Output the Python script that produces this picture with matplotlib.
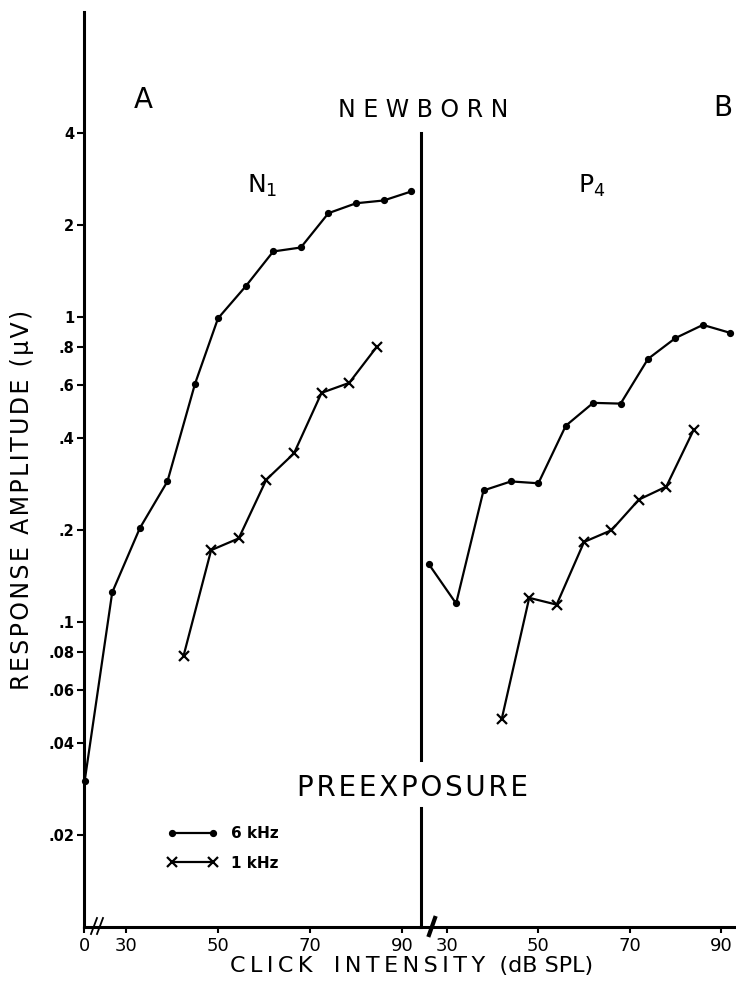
import matplotlib.pyplot as plt
from matplotlib.lines import Line2D
from matplotlib.ticker import FixedLocator, NullLocator

W, H = 736, 988

# click intensity (dB SPL) and response amplitude (uV)
db_n1_6k = [21, 27, 33, 39, 45, 50, 56, 62, 68, 74, 80, 86, 92]
amp_n1_6k = [0.030, 0.125, 0.203, 0.289, 0.604, 0.99, 1.26, 1.64, 1.69, 2.19, 2.36, 2.41, 2.58]
db_n1_1k = [42.5, 48.5, 54.5, 60.5, 66.5, 72.5, 78.5, 84.5]
amp_n1_1k = [0.0774, 0.172, 0.188, 0.293, 0.357, 0.564, 0.608, 0.798]

db_p4_6k = [26, 32, 38, 44, 50, 56, 62, 68, 74, 80, 86, 92]
amp_p4_6k = [0.155, 0.115, 0.270, 0.289, 0.285, 0.440, 0.523, 0.52, 0.729, 0.853, 0.942, 0.887]
db_p4_1k = [42, 48, 54, 60, 66, 72, 78, 84]
amp_p4_1k = [0.0482, 0.120, 0.114, 0.183, 0.200, 0.252, 0.278, 0.427]

y_ticks = [4, 2, 1, 0.8, 0.6, 0.4, 0.2, 0.1, 0.08, 0.06, 0.04, 0.02]
y_labels = ['4', '2', '1', '.8', '.6', '.4', '.2', '.1', '.08', '.06', '.04', '.02']
x_ticks = [30, 50, 70, 90]


def fx(x):
    return x / W


def fy(y):
    return 1 - y / H


fig = plt.figure(figsize=(W / 100, H / 100), dpi=100)
fig.patch.set_facecolor('white')

top, bottom = 12, 927
ax_a = fig.add_axes([fx(84), fy(bottom), (420 - 84) / W, (bottom - top) / H])
ax_b = fig.add_axes([fx(420), fy(bottom), (760 - 420) / W, (bottom - top) / H])

line_kw = dict(color='black', lw=1.6)
dot_kw = dict(marker='o', ms=4.2, mfc='black', mec='black')
cross_kw = dict(marker='x', ms=6.5, mew=1.6, mec='black')

h6, = ax_a.plot(db_n1_6k, amp_n1_6k, **line_kw, **dot_kw, clip_on=False)
h1, = ax_a.plot(db_n1_1k, amp_n1_1k, **line_kw, **cross_kw, clip_on=False)
ax_b.plot(db_p4_6k, amp_p4_6k, **line_kw, **dot_kw)
ax_b.plot(db_p4_1k, amp_p4_1k, **line_kw, **cross_kw)

for ax in (ax_a, ax_b):
    ax.set_yscale('log')
    ax.set_ylim(0.01, 10)
    ax.spines['top'].set_visible(False)
    ax.spines['right'].set_visible(False)
    ax.spines['bottom'].set_linewidth(2.2)
    ax.spines['left'].set_linewidth(2.2)
    ax.yaxis.set_minor_locator(NullLocator())
    ax.xaxis.set_minor_locator(NullLocator())
    ax.patch.set_alpha(0)

ax_a.set_xlim(20.87, 93.9)
ax_b.set_xlim(24.1, 98.5)

ax_a.yaxis.set_major_locator(FixedLocator(y_ticks))
ax_a.set_yticklabels(y_labels, fontweight='bold')
ax_a.tick_params(axis='y', direction='out', length=5, width=1.5, pad=2,
                 labelsize=10.5)
ax_b.spines['left'].set_visible(False)
ax_b.tick_params(axis='y', left=False, labelleft=False)

ax_a.set_xticks([ax_a.get_xlim()[0]] + x_ticks)
ax_a.set_xticklabels(['0'] + [str(t) for t in x_ticks])
ax_b.set_xticks(x_ticks)
ax_b.set_xticklabels([str(t) for t in x_ticks])
for ax in (ax_a, ax_b):
    ax.tick_params(axis='x', direction='out', length=4, width=1.5, pad=3,
                   labelsize=13)

# divider between the two panels, broken around PREEXPOSURE
for y0, y1 in [(133, 760), (808, bottom)]:
    fig.add_artist(Line2D([fx(421), fx(421)], [fy(y0), fy(y1)],
                          color='black', lw=2.2))

# axis break marks
for x0 in (91, 97):
    fig.add_artist(Line2D([fx(x0), fx(x0 + 6)], [fy(934), fy(918)],
                          color='black', lw=1.3))
fig.add_artist(Line2D([fx(429), fx(435)], [fy(935), fy(918)],
                      color='black', lw=3))

# panel labels and titles
fig.text(fx(143), fy(100), 'A', fontsize=20, ha='center', va='center')
fig.text(fx(713), fy(108), 'B', fontsize=20, ha='left', va='center')
fig.text(fx(423), fy(110), 'N E W B O R N', fontsize=17, ha='center', va='center')
fig.text(fx(262), fy(186), r'N$_1$', fontsize=18, ha='center', va='center')
fig.text(fx(592), fy(186), r'P$_4$', fontsize=18, ha='center', va='center')
fig.text(fx(412), fy(788), '\u200a'.join('PREEXPOSURE'), fontsize=20,
         ha='center', va='center')

fig.text(fx(22), fy(500), '\u200a'.join('RESPONSE AMPLITUDE (µV)'),
         fontsize=17, rotation=90, ha='center', va='center')
fig.text(fx(412), fy(966),
         '\u2009'.join('CLICK') + '   ' + '\u2009'.join('INTENSITY') + '  (dB SPL)',
         fontsize=16, ha='center', va='center')

ax_a.legend([h6, h1], ['6 kHz', '1 kHz'], numpoints=2, frameon=False,
            loc='upper left', bbox_to_anchor=(fx(167), fy(826)),
            bbox_transform=fig.transFigure, handlelength=3.3,
            handletextpad=0.9, labelspacing=0.95, borderpad=0,
            borderaxespad=0, prop={'size': 11, 'weight': 'bold'})

fig.savefig('out.png', dpi=100)
